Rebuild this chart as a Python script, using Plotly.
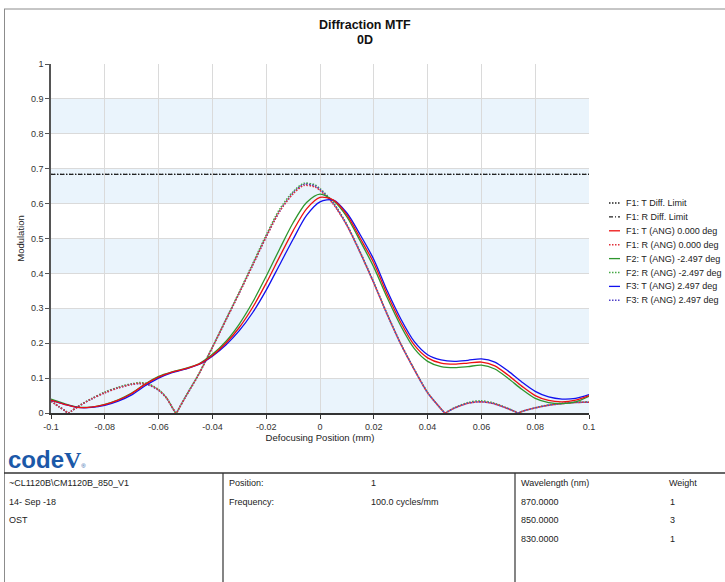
import plotly.graph_objects as go

# ---------------- data ----------------
x_T = [-0.1, -0.095, -0.09, -0.085, -0.08, -0.075, -0.07, -0.065, -0.06, -0.055,
       -0.05, -0.045, -0.04, -0.035, -0.03, -0.025, -0.02, -0.015, -0.01, -0.005,
       0.0, 0.005, 0.01, 0.015, 0.02, 0.025, 0.03, 0.035, 0.04, 0.045,
       0.05, 0.055, 0.06, 0.065, 0.07, 0.075, 0.08, 0.085, 0.09, 0.095, 0.1]

T_F1 = [0.037, 0.025, 0.016, 0.017, 0.024, 0.037, 0.056, 0.082, 0.103, 0.117,
        0.127, 0.140, 0.165, 0.200, 0.245, 0.303, 0.372, 0.448, 0.522, 0.585,
        0.618, 0.610, 0.568, 0.500, 0.430, 0.340, 0.260, 0.195, 0.158, 0.143,
        0.140, 0.143, 0.146, 0.135, 0.108, 0.077, 0.050, 0.036, 0.032, 0.037, 0.050]

T_F2 = [0.040, 0.027, 0.017, 0.017, 0.025, 0.038, 0.057, 0.083, 0.105, 0.118,
        0.128, 0.141, 0.168, 0.205, 0.255, 0.318, 0.392, 0.470, 0.545, 0.603,
        0.627, 0.608, 0.562, 0.492, 0.418, 0.330, 0.250, 0.185, 0.148, 0.133,
        0.130, 0.133, 0.137, 0.126, 0.099, 0.068, 0.042, 0.030, 0.027, 0.032, 0.048]

T_F3 = [0.036, 0.025, 0.016, 0.016, 0.022, 0.034, 0.052, 0.078, 0.100, 0.116,
        0.126, 0.139, 0.163, 0.195, 0.236, 0.288, 0.352, 0.425, 0.498, 0.566,
        0.605, 0.610, 0.573, 0.510, 0.440, 0.350, 0.270, 0.205, 0.167, 0.152,
        0.148, 0.151, 0.155, 0.146, 0.120, 0.089, 0.062, 0.046, 0.040, 0.042, 0.053]

x_R = [-0.1, -0.097, -0.0948, -0.0936, -0.0924, -0.09, -0.085, -0.08, -0.075, -0.07,
       -0.067, -0.064, -0.06, -0.057, -0.0547, -0.0535, -0.0523, -0.05, -0.045, -0.04,
       -0.035, -0.03, -0.025, -0.02, -0.015, -0.01, -0.006, -0.002, 0.0, 0.005,
       0.01, 0.015, 0.02, 0.025, 0.03, 0.035, 0.04, 0.0435, 0.0453, 0.0465,
       0.0477, 0.05, 0.055, 0.0595, 0.064, 0.069, 0.0725, 0.0737, 0.0749, 0.078,
       0.084, 0.09, 0.095, 0.1]

R_F1 = [0.034, 0.018, 0.0065, 0.0, 0.0055, 0.018, 0.040, 0.058, 0.072, 0.082,
        0.085, 0.082, 0.066, 0.042, 0.013, 0.0, 0.015, 0.046, 0.112, 0.188,
        0.266, 0.344, 0.424, 0.505, 0.578, 0.628, 0.652, 0.648, 0.638, 0.598,
        0.537, 0.458, 0.372, 0.282, 0.198, 0.125, 0.058, 0.025, 0.009, 0.0,
        0.005, 0.014, 0.028, 0.032, 0.028, 0.015, 0.004, 0.0, 0.004, 0.011,
        0.021, 0.027, 0.030, 0.031]

R_F2 = [0.035, 0.018, 0.0065, 0.0, 0.0056, 0.019, 0.041, 0.060, 0.074, 0.084,
        0.087, 0.084, 0.067, 0.043, 0.013, 0.0, 0.015, 0.047, 0.113, 0.189,
        0.268, 0.347, 0.428, 0.510, 0.584, 0.634, 0.658, 0.654, 0.643, 0.602,
        0.540, 0.460, 0.374, 0.283, 0.199, 0.126, 0.059, 0.025, 0.009, 0.0,
        0.005, 0.015, 0.030, 0.035, 0.030, 0.016, 0.004, 0.0, 0.004, 0.011,
        0.022, 0.028, 0.031, 0.032]

R_F3 = [0.034, 0.018, 0.0065, 0.0, 0.0055, 0.018, 0.040, 0.058, 0.072, 0.082,
        0.084, 0.081, 0.065, 0.042, 0.013, 0.0, 0.015, 0.046, 0.112, 0.188,
        0.266, 0.344, 0.424, 0.505, 0.578, 0.630, 0.655, 0.651, 0.640, 0.600,
        0.538, 0.459, 0.373, 0.282, 0.198, 0.125, 0.058, 0.025, 0.009, 0.0,
        0.005, 0.014, 0.028, 0.032, 0.028, 0.015, 0.004, 0.0, 0.004, 0.011,
        0.021, 0.027, 0.030, 0.031]

x_diff = [-0.1, 0.1]
diff_T = [0.684, 0.684]
diff_R = [0.684, 0.684]

x_tickvals = [-0.1, -0.08, -0.06, -0.04, -0.02, 0, 0.02, 0.04, 0.06, 0.08, 0.1]
x_ticktext = ["-0.1", "-0.08", "-0.06", "-0.04", "-0.02", "0", "0.02", "0.04", "0.06", "0.08", "0.1"]
y_tickvals = [0, 0.1, 0.2, 0.3, 0.4, 0.5, 0.6, 0.7, 0.8, 0.9, 1]
y_ticktext = ["0", "0.1", "0.2", "0.3", "0.4", "0.5", "0.6", "0.7", "0.8", "0.9", "1"]

legend_names = ["F1: T Diff. Limit", "F1: R Diff. Limit",
                "F1: T (ANG) 0.000 deg", "F1: R (ANG) 0.000 deg",
                "F2: T (ANG) -2.497 deg", "F2: R (ANG) -2.497 deg",
                "F3: T (ANG) 2.497 deg", "F3: R (ANG) 2.497 deg"]

table_col1 = ["~CL1120B\\CM1120B_850_V1", "14- Sep -18", "OST"]
table_labels = ["Position:", "Frequency:"]
table_values = ["1", "100.0 cycles/mm"]
wavelengths = ["870.0000", "850.0000", "830.0000"]
weights = ["1", "3", "1"]

# ---------------- styles ----------------
W, H = 725, 582
FONT = "Liberation Sans, Arial, sans-serif"

def PX(p):
    return p / W

def PY(p):
    return 1 - p / H

styles = [
    dict(color="#222222", dash="1.5px,1.5px", width=1.3),
    dict(color="#222222", dash="4px,2px,1px,2px", width=1.2),
    dict(color="#ee1111", dash="solid", width=1.3),
    dict(color="#e0303a", dash="1.5px,1.5px", width=1.6),
    dict(color="#2e962e", dash="solid", width=1.3),
    dict(color="#44a844", dash="1.5px,1.5px", width=1.6),
    dict(color="#1111ee", dash="solid", width=1.3),
    dict(color="#5040c8", dash="1.5px,1.5px", width=1.6),
]

series = [
    (x_diff, diff_T, "linear"),
    (x_diff, diff_R, "linear"),
    (x_T, T_F1, "spline"),
    (x_R, R_F1, "spline"),
    (x_T, T_F2, "spline"),
    (x_R, R_F2, "spline"),
    (x_T, T_F3, "spline"),
    (x_R, R_F3, "spline"),
]

fig = go.Figure()
draw_order = [0, 1, 5, 7, 3, 4, 6, 2]
for i in draw_order:
    xs, ys, shp = series[i]
    st = styles[i]
    fig.add_trace(go.Scatter(
        x=xs, y=ys, mode="lines", name=legend_names[i],
        line=dict(color=st["color"], dash=st["dash"], width=st["width"],
                  shape=shp, smoothing=0.8 if shp == "spline" else None),
        showlegend=False, hoverinfo="x+y+name",
    ))

shapes = []
# alternating bands
for k in range(0, 10, 2):
    shapes.append(dict(type="rect", xref="x domain", yref="y", x0=0, x1=1,
                       y0=y_tickvals[k], y1=y_tickvals[k + 1],
                       fillcolor="#eaf4fc", line=dict(width=0), layer="below"))

# frame
shapes.append(dict(type="line", xref="paper", yref="paper", x0=PX(4), x1=PX(W + 5),
                   y0=PY(9), y1=PY(9), line=dict(color="#8c8c8c", width=1)))
shapes.append(dict(type="line", xref="paper", yref="paper", x0=PX(4.5), x1=PX(4.5),
                   y0=PY(9), y1=PY(H + 5), line=dict(color="#8c8c8c", width=1)))
# table
shapes.append(dict(type="line", xref="paper", yref="paper", x0=PX(4), x1=PX(W + 5),
                   y0=PY(473), y1=PY(473), line=dict(color="#333333", width=1.5)))
for xp in (223, 515):
    shapes.append(dict(type="line", xref="paper", yref="paper", x0=PX(xp), x1=PX(xp),
                       y0=PY(473), y1=PY(H + 5), line=dict(color="#333333", width=1.2)))

annotations = []
# custom legend
for i, name in enumerate(legend_names):
    yy = 203 + i * 13.9
    st = styles[i]
    shapes.append(dict(type="line", xref="paper", yref="paper", x0=PX(609), x1=PX(620),
                       y0=PY(yy), y1=PY(yy),
                       line=dict(color=st["color"], dash=st["dash"], width=st["width"])))
    annotations.append(dict(text=name, xref="paper", yref="paper", x=PX(624), y=PY(yy),
                            xanchor="left", yanchor="middle", showarrow=False,
                            font=dict(family=FONT, size=9, color="#222222")))

# title
annotations.append(dict(text="<b>Diffraction MTF</b>", xref="paper", yref="paper",
                        x=PX(365), y=PY(25), xanchor="center", yanchor="middle",
                        showarrow=False, font=dict(family=FONT, size=12.5, color="#111111")))
annotations.append(dict(text="<b>0D</b>", xref="paper", yref="paper",
                        x=PX(365), y=PY(40.5), xanchor="center", yanchor="middle",
                        showarrow=False, font=dict(family=FONT, size=12.5, color="#111111")))

# logo
annotations.append(dict(
    text="<b>code</b><span style='font-family:Liberation Serif'><b>V</b></span>"
         "<span style='font-size:6px'>®</span>",
    xref="paper", yref="paper", x=PX(6), y=PY(459), xanchor="left", yanchor="middle",
    showarrow=False, font=dict(family=FONT, size=24, color="#1b58a8")))

# table text
def tt(text, xp, yp):
    annotations.append(dict(text=text, xref="paper", yref="paper", x=PX(xp), y=PY(yp),
                            xanchor="left", yanchor="middle", showarrow=False,
                            font=dict(family=FONT, size=9, color="#222222")))

rows_y = [483, 501.5, 520, 538.5]
for j, t in enumerate(table_col1):
    tt(t, 7, rows_y[j])
for j, t in enumerate(table_labels):
    tt(t, 227, rows_y[j])
for j, t in enumerate(table_values):
    tt(t, 369, rows_y[j])
tt("Wavelength (nm)", 519, rows_y[0])
tt("Weight", 667, rows_y[0])
for j, t in enumerate(wavelengths):
    tt(t, 519, rows_y[j + 1])
for j, t in enumerate(weights):
    tt(t, 668, rows_y[j + 1])

fig.update_layout(
    width=W, height=H,
    margin=dict(l=0, r=0, t=0, b=0),
    paper_bgcolor="white", plot_bgcolor="white",
    showlegend=False,
    shapes=shapes, annotations=annotations,
    font=dict(family=FONT, size=9, color="#333333"),
    xaxis=dict(domain=[51 / W, 589 / W], range=[-0.1, 0.1],
               tickvals=x_tickvals, ticktext=x_ticktext,
               showgrid=True, gridcolor="#dadada", gridwidth=1, zeroline=False,
               showline=True, linecolor="#333333", linewidth=1.5,
               ticks="outside", ticklen=4, tickcolor="#333333",
               tickfont=dict(family=FONT, size=9, color="#333333"),
               title=dict(text="Defocusing Position (mm)", standoff=4,
                          font=dict(family=FONT, size=9.5, color="#222222")),
               automargin=False, fixedrange=True),
    yaxis=dict(domain=[1 - 413 / H, 1 - 64 / H], range=[0, 1],
               tickvals=y_tickvals, ticktext=y_ticktext,
               showgrid=True, gridcolor="#dadada", gridwidth=1, zeroline=False,
               showline=True, linecolor="#555555", linewidth=1.5,
               ticks="outside", ticklen=4, tickcolor="#555555",
               tickfont=dict(family=FONT, size=9, color="#333333"),
               title=dict(text="Modulation", standoff=5,
                          font=dict(family=FONT, size=9.5, color="#222222")),
               automargin=False, fixedrange=True),
)

fig.write_html("out.html")
